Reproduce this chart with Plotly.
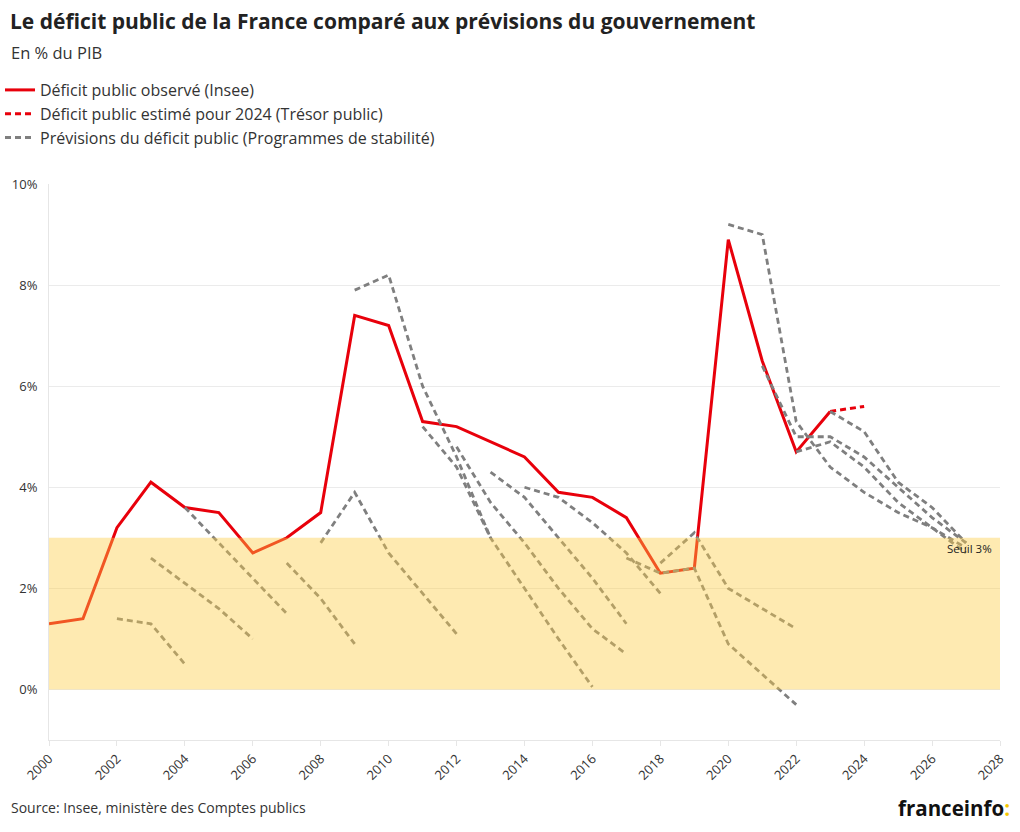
import plotly.graph_objects as go

# ---- Data ----
obs_years = list(range(2000, 2024))
obs_deficit = [1.3, 1.4, 3.2, 4.1, 3.6, 3.5, 2.7, 3.0, 3.5, 7.4, 7.2, 5.3,
               5.2, 4.9, 4.6, 3.9, 3.8, 3.4, 2.3, 2.4, 8.9, 6.5, 4.7, 5.5]

est_years = [2023, 2024]
est_deficit = [5.5, 5.6]

# Stability programme forecasts
ps2002_years = [2002, 2003, 2004]
ps2002_vals = [1.4, 1.3, 0.5]
ps2003_years = [2003, 2004, 2005, 2006]
ps2003_vals = [2.6, 2.1, 1.6, 1.0]
ps2004_years = [2004, 2005, 2006, 2007]
ps2004_vals = [3.6, 2.9, 2.2, 1.5]
ps2007_years = [2007, 2008, 2009]
ps2007_vals = [2.5, 1.8, 0.9]
ps2009_years = [2008, 2009, 2010, 2011, 2012]
ps2009_vals = [2.9, 3.9, 2.7, 1.9, 1.1]
ps2010_years = [2009, 2010, 2011, 2012, 2013]
ps2010_vals = [7.9, 8.2, 6.0, 4.6, 3.0]
ps2012_years = [2011, 2012, 2013, 2014, 2015, 2016]
ps2012_vals = [5.2, 4.4, 3.0, 2.0, 1.0, 0.05]
ps2013_years = [2012, 2013, 2014, 2015, 2016, 2017]
ps2013_vals = [4.8, 3.7, 2.9, 2.0, 1.2, 0.7]
ps2014_years = [2013, 2014, 2015, 2016, 2017]
ps2014_vals = [4.3, 3.8, 3.0, 2.2, 1.3]
ps2015_years = [2014, 2015, 2016, 2017, 2018]
ps2015_vals = [4.0, 3.8, 3.3, 2.7, 1.9]
ps2018_years = [2017, 2018, 2019, 2020, 2021, 2022]
ps2018_vals = [2.6, 2.3, 2.4, 0.9, 0.3, -0.3]
ps2019_years = [2018, 2019, 2020, 2021, 2022]
ps2019_vals = [2.5, 3.1, 2.0, 1.6, 1.2]
ps2021_years = [2020, 2021, 2022, 2023, 2024, 2025, 2026, 2027]
ps2021_vals = [9.2, 9.0, 5.3, 4.4, 3.9, 3.5, 3.2, 2.8]
ps2022_years = [2021, 2022, 2023, 2024, 2025, 2026, 2027]
ps2022_vals = [6.4, 5.0, 5.0, 4.6, 4.0, 3.4, 2.9]
ps2023_years = [2022, 2023, 2024, 2025, 2026, 2027]
ps2023_vals = [4.7, 4.9, 4.4, 3.7, 3.2, 2.7]
ps2024_years = [2023, 2024, 2025, 2026, 2027]
ps2024_vals = [5.5, 5.1, 4.1, 3.6, 2.9]

forecasts = [
    (ps2002_years, ps2002_vals), (ps2003_years, ps2003_vals),
    (ps2004_years, ps2004_vals), (ps2007_years, ps2007_vals),
    (ps2009_years, ps2009_vals), (ps2010_years, ps2010_vals),
    (ps2012_years, ps2012_vals), (ps2013_years, ps2013_vals),
    (ps2014_years, ps2014_vals), (ps2015_years, ps2015_vals),
    (ps2018_years, ps2018_vals), (ps2019_years, ps2019_vals),
    (ps2021_years, ps2021_vals), (ps2022_years, ps2022_vals),
    (ps2023_years, ps2023_vals), (ps2024_years, ps2024_vals),
]

y_ticks = [0, 2, 4, 6, 8, 10]
y_tick_labels = ["0%", "2%", "4%", "6%", "8%", "10%"]
x_ticks = list(range(2000, 2029, 2))

RED = "#e8000b"
GRAY = "#7f7f7f"
FONT = "'Open Sans', Lato, sans-serif"
TXT = "#333333"

W, H = 1020, 832
ML, MR, MT, MB = 49, 20, 184, 92
PW, PH = W - ML - MR, H - MT - MB


def px_x(px):
    return (px - ML) / PW


def px_y(py):
    return (H - MB - py) / PH


fig = go.Figure()

fig.add_trace(go.Scatter(
    x=obs_years, y=obs_deficit, mode="lines",
    line=dict(color=RED, width=3),
    name="Déficit public observé (Insee)", hoverinfo="skip"))
fig.add_trace(go.Scatter(
    x=est_years, y=est_deficit, mode="lines",
    line=dict(color=RED, width=3, dash="6px,4px"),
    name="Déficit public estimé pour 2024 (Trésor public)", hoverinfo="skip"))

for i, (yrs, vals) in enumerate(forecasts):
    fig.add_trace(go.Scatter(
        x=yrs, y=vals, mode="lines",
        line=dict(color=GRAY, width=2.8, dash="6px,4px"),
        name="Prévisions du déficit public (Programmes de stabilité)",
        showlegend=(i == 0), legendgroup="prev", hoverinfo="skip"))

# 3% band (drawn above the lines, semi-transparent)
fig.add_shape(type="rect", xref="x", yref="y", x0=2000, x1=2028, y0=0, y1=3,
              fillcolor="rgb(252,205,70)", opacity=0.42, line=dict(width=0),
              layer="above")

fig.add_annotation(x=2028, y=3, xref="x", yref="y", text="Seuil 3%",
                   showarrow=False, xanchor="right", yanchor="top",
                   xshift=-6, yshift=-1,
                   font=dict(family=FONT, size=11.5, color="#222"))

# Title, subtitle, source, logo
fig.add_annotation(xref="paper", yref="paper", x=px_x(8), y=px_y(5),
                   text="<b>Le déficit public de la France comparé aux prévisions du gouvernement</b>",
                   showarrow=False, xanchor="left", yanchor="top",
                   font=dict(family=FONT, size=21, color="#222"))
fig.add_annotation(xref="paper", yref="paper", x=px_x(9), y=px_y(39),
                   text="En % du PIB", showarrow=False, xanchor="left", yanchor="top",
                   font=dict(family=FONT, size=16.5, color=TXT))
fig.add_annotation(xref="paper", yref="paper", x=px_x(9), y=px_y(796),
                   text="Source: Insee, ministère des Comptes publics",
                   showarrow=False, xanchor="left", yanchor="top",
                   font=dict(family=FONT, size=14, color=TXT))
fig.add_annotation(xref="paper", yref="paper", x=px_x(1012), y=px_y(792),
                   text="<b>franceinfo<span style='color:#f5c800'>:</span></b>",
                   showarrow=False, xanchor="right", yanchor="top",
                   font=dict(family=FONT, size=20.5, color="#111"))

fig.update_layout(
    width=W, height=H,
    margin=dict(l=ML, r=MR, t=MT, b=MB, autoexpand=False),
    paper_bgcolor="white", plot_bgcolor="white",
    font=dict(family=FONT, size=13, color=TXT),
    showlegend=True,
    legend=dict(xref="container", yref="container", x=0.0, y=1 - 73 / H,
                xanchor="left", yanchor="top", orientation="v",
                font=dict(family=FONT, size=16, color=TXT),
                bgcolor="rgba(0,0,0,0)", itemwidth=30, tracegroupgap=0),
    xaxis=dict(range=[2000, 2028], tickvals=x_ticks, ticktext=[str(v) for v in x_ticks],
               tickangle=-45, showgrid=False, zeroline=False,
               showline=True, linecolor="#e6e6e6", linewidth=1,
               ticks="outside", ticklen=5, tickcolor="#e6e6e6",
               tickfont=dict(family=FONT, size=13, color=TXT)),
    yaxis=dict(range=[-1, 10], tickvals=y_ticks, ticktext=y_tick_labels,
               showgrid=True, gridcolor="#ebebeb", gridwidth=1, zeroline=False,
               showline=True, linecolor="#e6e6e6", linewidth=1,
               ticks="", ticklabelstandoff=8,
               tickfont=dict(family=FONT, size=13, color=TXT)),
)

fig.write_html("out.html")
